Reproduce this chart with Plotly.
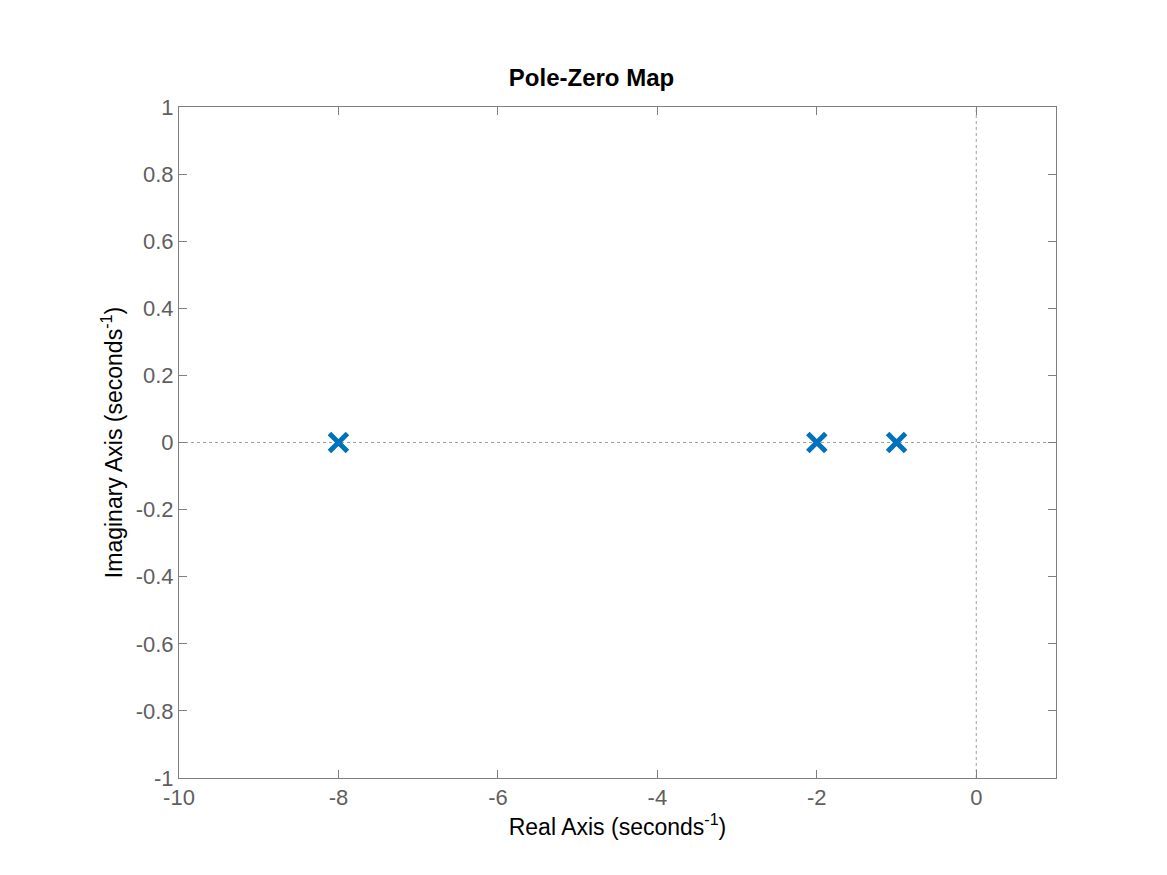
import plotly.graph_objects as go

# poles of the system
pole_real = [-8, -2, -1]
pole_imag = [0, 0, 0]

x_ticks = [-10, -8, -6, -4, -2, 0]
y_ticks = [-1, -0.8, -0.6, -0.4, -0.2, 0, 0.2, 0.4, 0.6, 0.8, 1]

font_fam = "Helvetica, Arial, Liberation Sans"

fig = go.Figure()

# dotted axes through origin
fig.add_trace(go.Scatter(x=[-10, 1], y=[0, 0], mode="lines",
                         line=dict(color="#a0a0a0", width=1, dash="dot"),
                         hoverinfo="skip", showlegend=False))
fig.add_trace(go.Scatter(x=[0, 0], y=[-1, 1], mode="lines",
                         line=dict(color="#a0a0a0", width=1, dash="dot"),
                         hoverinfo="skip", showlegend=False))

fig.add_trace(go.Scatter(x=pole_real, y=pole_imag, mode="markers",
                         marker=dict(symbol="x-thin", size=18,
                                     line=dict(color="#0072BD", width=5)),
                         showlegend=False))

axis_common = dict(showgrid=False, zeroline=False, showline=True, mirror="ticks",
                   linecolor="#7f7f7f", linewidth=1, ticks="inside", ticklen=8,
                   tickcolor="#7f7f7f",
                   tickfont=dict(family=font_fam, size=22, color="#5f5f5f"))

fig.update_xaxes(range=[-10, 1], tickvals=x_ticks, ticktext=[str(v) for v in x_ticks],
                 title=dict(text="Real Axis (seconds<sup>-1</sup>)", standoff=2,
                            font=dict(family=font_fam, size=23, color="black")),
                 **axis_common)
fig.update_yaxes(range=[-1, 1], tickvals=y_ticks, ticktext=[f"{v:g}" for v in y_ticks],
                 title=dict(text="Imaginary Axis (seconds<sup>-1</sup>)", standoff=6,
                            font=dict(family=font_fam, size=23, color="black")),
                 **axis_common)

fig.update_layout(
    width=1167, height=875,
    plot_bgcolor="white", paper_bgcolor="white",
    margin=dict(l=171, r=119, t=99, b=105),
    title=dict(text="<b>Pole-Zero Map</b>", x=0.5, xanchor="center", y=0.92, yanchor="middle",
               font=dict(family=font_fam, size=24, color="black")),
)

fig.write_html("out.html")
